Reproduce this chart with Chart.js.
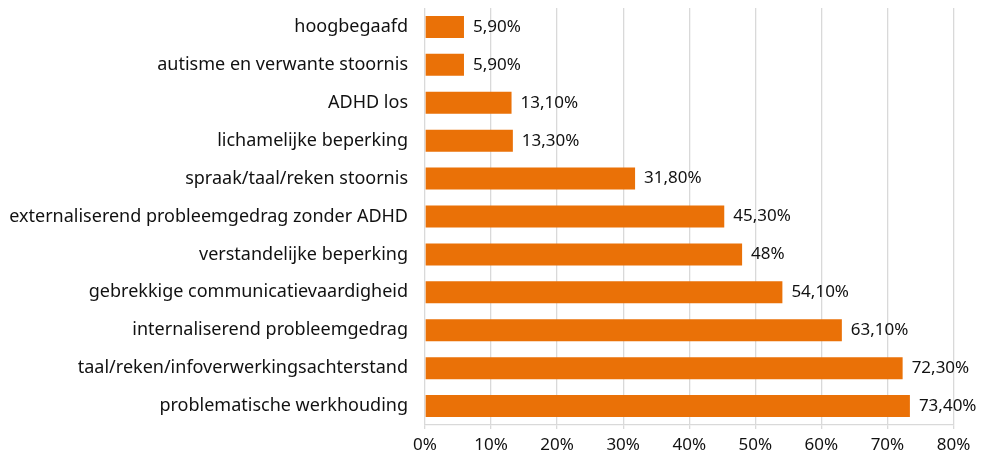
<!DOCTYPE html>
<html>
<head>
<meta charset="utf-8">
<script src="https://cdn.jsdelivr.net/npm/chart.js@4"></script>
<style>
  html, body { margin: 0; padding: 0; background: #fff; }
  #wrap { width: 983px; height: 452px; }
</style>
</head>
<body>
<div id="wrap"><canvas id="barChart"></canvas></div>
<script>
var categories = [
    'hoogbegaafd',
    'autisme en verwante stoornis',
    'ADHD los',
    'lichamelijke beperking',
    'spraak/taal/reken stoornis',
    'externaliserend probleemgedrag zonder ADHD',
    'verstandelijke beperking',
    'gebrekkige communicatievaardigheid',
    'internaliserend probleemgedrag',
    'taal/reken/infoverwerkingsachterstand',
    'problematische werkhouding'
];
var percentages = [5.9, 5.9, 13.1, 13.3, 31.8, 45.3, 48, 54.1, 63.1, 72.3, 73.4];
var xTicks = [0, 10, 20, 30, 40, 50, 60, 70, 80];

var fontFamily = '"Noto Sans", sans-serif';
var textColor = '#111';

var formatPct = v => Number.isInteger(v) ? v + '%' : v.toFixed(2).replace('.', ',') + '%';

// value labels at the end of each bar
var valueLabels = {
    id: 'valueLabels',
    afterDatasetsDraw(chart) {
        var ctx = chart.ctx;
        var meta = chart.getDatasetMeta(0);
        ctx.save();
        ctx.font = '17px ' + fontFamily;
        ctx.fillStyle = textColor;
        ctx.textAlign = 'left';
        ctx.textBaseline = 'middle';
        meta.data.forEach((bar, i) => {
            ctx.fillText(formatPct(percentages[i]), bar.x + 9, bar.y);
        });
        ctx.restore();
    }
};

new Chart('barChart', {
    type: 'bar',
    data: {
        labels: categories,
        datasets: [{
            data: percentages,
            backgroundColor: '#EA7107',
            borderWidth: 0,
            categoryPercentage: 1,
            barPercentage: 0.58
        }]
    },
    options: {
        indexAxis: 'y',
        responsive: true,
        maintainAspectRatio: false,
        animation: false,
        layout: { padding: { top: 8, right: 29.5, left: 0, bottom: 0 } },
        plugins: {
            legend: { display: false },
            tooltip: { enabled: false }
        },
        scales: {
            x: {
                min: 0,
                max: 80,
                afterBuildTicks: scale => { scale.ticks = xTicks.map(v => ({ value: v })); },
                grid: { color: '#d9d9d9', lineWidth: 1.3, tickLength: 4 },
                border: { color: '#d9d9d9', width: 1.3 },
                ticks: {
                    color: textColor,
                    font: { family: fontFamily, size: 17 },
                    padding: 6,
                    maxRotation: 0,
                    callback: v => v + '%'
                },
                afterFit: scale => {
                    scale.height = 27;
                    scale.paddingLeft = 0;
                    scale.paddingRight = 0;
                }
            },
            y: {
                grid: { display: false },
                border: { display: false },
                ticks: {
                    color: textColor,
                    font: { family: fontFamily, size: 18 },
                    padding: 9
                },
                afterFit: scale => {
                    scale.width = 425;
                    scale.paddingTop = 0;
                    scale.paddingBottom = 0;
                }
            }
        }
    },
    plugins: [valueLabels]
});
</script>
</body>
</html>
